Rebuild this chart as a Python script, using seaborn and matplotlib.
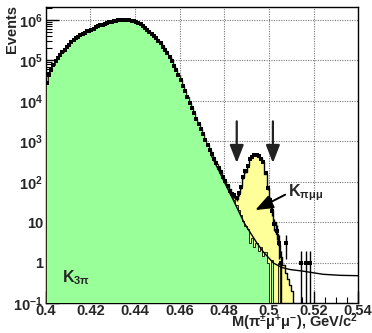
import numpy as np
import pandas as pd
import matplotlib
matplotlib.use("Agg")
import matplotlib.pyplot as plt
from matplotlib.ticker import MultipleLocator, LogLocator, NullFormatter
import seaborn as sns

# ---------------- data ----------------
bin_lo = 0.400
bin_w = 0.001
n_bins = 140

# K3pi MC (green), one value per 0.001 bin from 0.400
k3pi_counts = [
    28200, 41700, 56200, 75900, 95500, 115000, 135000, 158000, 182000, 209000,
    240000, 275000, 316000, 347000, 380000, 417000, 447000, 479000, 513000, 537000,
    562000, 603000, 646000, 692000, 724000, 759000, 794000, 832000, 871000, 891000,
    933000, 955000, 977000, 1000000, 1000000, 1000000, 1000000, 977000, 955000, 912000,
    871000, 813000, 776000, 708000, 631000, 550000, 490000, 447000, 398000, 347000,
    302000, 263000, 219000, 182000, 148000, 120000, 95500, 74100, 57500, 42700,
    31600, 23400, 17000, 12300, 8910, 6610, 4900, 3630, 2690, 2000,
    1480, 1100, 813, 617, 468, 363, 282, 219, 170, 132,
    102, 79, 62, 47, 35, 27, 20, 15, 11, 8,
    7, 3, 4, 2.5, 3, 2, 2.5, 1.5, 1.8, 1,
    0, 1.2, 0, 0, 1, 0, 0, 0, 0, 0,
] + [0] * 30

# K pi mu mu MC (yellow), bins from 0.480 to 0.510
kpimumu_start = 0.480
kpimumu_counts = [
    0, 2, 4, 5, 7, 11, 32, 64, 121, 170,
    256, 352, 423, 465, 465, 415, 378, 300, 156, 70,
    35, 19, 10, 5.2, 1.8, 1.4, 0.9, 0.56, 0.4, 0.28, 0.2,
]

# data points: one per bin from 0.400 to 0.505, then a few isolated ones
data_counts = [
    28000, 42000, 56000, 76000, 95000, 116000, 134000, 159000, 181000, 210000,
    239000, 276000, 315000, 348000, 379000, 418000, 446000, 480000, 512000, 538000,
    561000, 604000, 645000, 693000, 723000, 760000, 793000, 833000, 870000, 892000,
    932000, 956000, 976000, 1001000, 999000, 1002000, 998000, 978000, 954000, 913000,
    870000, 814000, 775000, 709000, 630000, 551000, 489000, 448000, 397000, 348000,
    301000, 264000, 218000, 183000, 147000, 121000, 95000, 74000, 57800, 42500,
    31800, 23200, 17100, 12200, 8950, 6580, 4930, 3600, 2710, 1980,
    1490, 1090, 820, 610, 472, 358, 285, 216, 173, 128,
    105, 80, 60, 50, 47, 40, 52, 75, 130, 180,
    250, 360, 420, 470, 460, 425, 370, 300, 165, 72,
    36, 19, 9, 6, 3, 1,
]
extra_x = [0.5075, 0.5145, 0.5165, 0.5185]
extra_counts = [3, 1, 1, 1]

# background fit curve
fit_x = [0.474, 0.476, 0.478, 0.480, 0.482, 0.484, 0.4866, 0.489, 0.492, 0.4946,
         0.4975, 0.5021, 0.506, 0.5096, 0.5154, 0.5243, 0.532, 0.540]
fit_y = [470, 280, 170, 100, 60, 36, 18, 9.5, 5.2, 3.1,
         1.86, 0.98, 0.76, 0.68, 0.62, 0.52, 0.49, 0.48]

x_ticks = [0.40, 0.42, 0.44, 0.46, 0.48, 0.50, 0.52, 0.54]
x_tick_labels = ["0.4", "0.42", "0.44", "0.46", "0.48", "0.5", "0.52", "0.54"]
y_ticks = [1e-1, 1, 10, 1e2, 1e3, 1e4, 1e5, 1e6]
y_tick_labels = [r"$10^{-1}$", "1", "10", r"$10^{2}$", r"$10^{3}$",
                 r"$10^{4}$", r"$10^{5}$", r"$10^{6}$"]

arrow_x = [0.4856, 0.5018]
# ---------------------------------------------------------------

sns.set_theme(style="white")
plt.rcParams["font.family"] = ["Liberation Sans", "DejaVu Sans"]
plt.rcParams["font.weight"] = "bold"
plt.rcParams["mathtext.fontset"] = "custom"
plt.rcParams["mathtext.default"] = "bf"
plt.rcParams["mathtext.bf"] = "Liberation Sans:bold"
plt.rcParams["mathtext.rm"] = "Liberation Sans:bold"
plt.rcParams["mathtext.it"] = "Liberation Sans:bold"

edges = bin_lo + bin_w * np.arange(n_bins + 1)
centers = edges[:-1] + bin_w / 2
green = np.array(k3pi_counts, dtype=float)
yellow = np.zeros(n_bins)
i0 = int(round((kpimumu_start - bin_lo) / bin_w))
yellow[i0:i0 + len(kpimumu_counts)] = kpimumu_counts
total = green + yellow

hist_df = pd.DataFrame({"m": centers, "total": total, "k3pi": green})

dx = np.concatenate([centers[:len(data_counts)], extra_x])
dy = np.array(data_counts + extra_counts, dtype=float)
data_df = pd.DataFrame({"m": dx, "n": dy})

fig = plt.figure(figsize=(3.72, 3.33), dpi=100)
ax = fig.add_axes([0.1228, 0.0892, 0.840, 0.889])
ax.set_yscale("log")

sns.histplot(data=hist_df, x="m", weights="total", bins=list(edges), element="step",
             fill=True, facecolor="#ffff99", edgecolor="black", linewidth=1.0,
             alpha=1, ax=ax, zorder=2)
sns.histplot(data=hist_df, x="m", weights="k3pi", bins=list(edges), element="step",
             fill=True, facecolor="#99ff99", edgecolor="#2a2a10", linewidth=0.7,
             alpha=1, ax=ax, zorder=3)

sns.lineplot(x=fit_x, y=fit_y, color="black", linewidth=1.0, ax=ax, zorder=4)

ax.errorbar(data_df["m"], data_df["n"], yerr=np.sqrt(data_df["n"]), fmt="none",
            ecolor="black", elinewidth=1.0, zorder=5)
sns.scatterplot(data=data_df, x="m", y="n", marker="s", s=8, color="black",
                linewidth=0, ax=ax, zorder=6)

ax.set_xlim(0.40, 0.54)
ax.set_ylim(0.1, 2.03e6)

ax.set_xticks(x_ticks)
ax.set_xticklabels(x_tick_labels)
ax.xaxis.set_minor_locator(MultipleLocator(0.005))
ax.set_yticks(y_ticks)
ax.set_yticklabels(y_tick_labels)
ax.yaxis.set_minor_locator(LogLocator(base=10, subs=np.arange(2, 10)))
ax.yaxis.set_minor_formatter(NullFormatter())

ax.tick_params(axis="both", which="major", direction="in", length=9, width=1,
               labelsize=10.5, pad=2, color="black", bottom=True, left=True)
ax.tick_params(axis="x", which="major", pad=0.5)
ax.tick_params(axis="both", which="minor", direction="in", length=4.5, width=0.8,
               color="black", bottom=True, left=True)
for lab in ax.get_xticklabels() + ax.get_yticklabels():
    lab.set_fontweight("bold")

ax.grid(True, which="major", linestyle=(0, (1, 1.2)), color="#777777", linewidth=0.8)
ax.set_axisbelow(True)
for s in ax.spines.values():
    s.set_color("black")
    s.set_linewidth(1.0)
ax.set_xlabel("")
ax.set_ylabel("")

for xa in arrow_x:
    ax.annotate("", xy=(xa, 290), xytext=(xa, 3100),
                arrowprops=dict(arrowstyle="-|>,head_length=0.9,head_width=0.35",
                                color="#222222", lw=1.6, shrinkA=0, shrinkB=0),
                zorder=7)

ax.annotate("", xy=(0.4939, 20), xytext=(0.5073, 48),
            arrowprops=dict(arrowstyle="-|>,head_length=0.9,head_width=0.35",
                            color="black", lw=1.4, shrinkA=0, shrinkB=0),
            zorder=7)
ax.text(0.5085, 55, r"K$_{\pi\mu\mu}$", fontsize=11.5, fontweight="bold",
        ha="left", va="center", zorder=8)
ax.text(0.4075, 0.42, r"K$_{3\pi}$", fontsize=11.5, fontweight="bold",
        ha="left", va="center", zorder=8)

fig.text(0.032, 0.985, "Events", rotation=90, ha="center", va="top",
         fontsize=10.5, fontweight="bold")
fig.text(0.962, 0.0, r"M($\pi^{\pm}\mu^{+}\mu^{-}$), GeV/c$^{2}$",
         ha="right", va="bottom", fontsize=10.5, fontweight="bold")

fig.savefig("out.png", dpi=100)
